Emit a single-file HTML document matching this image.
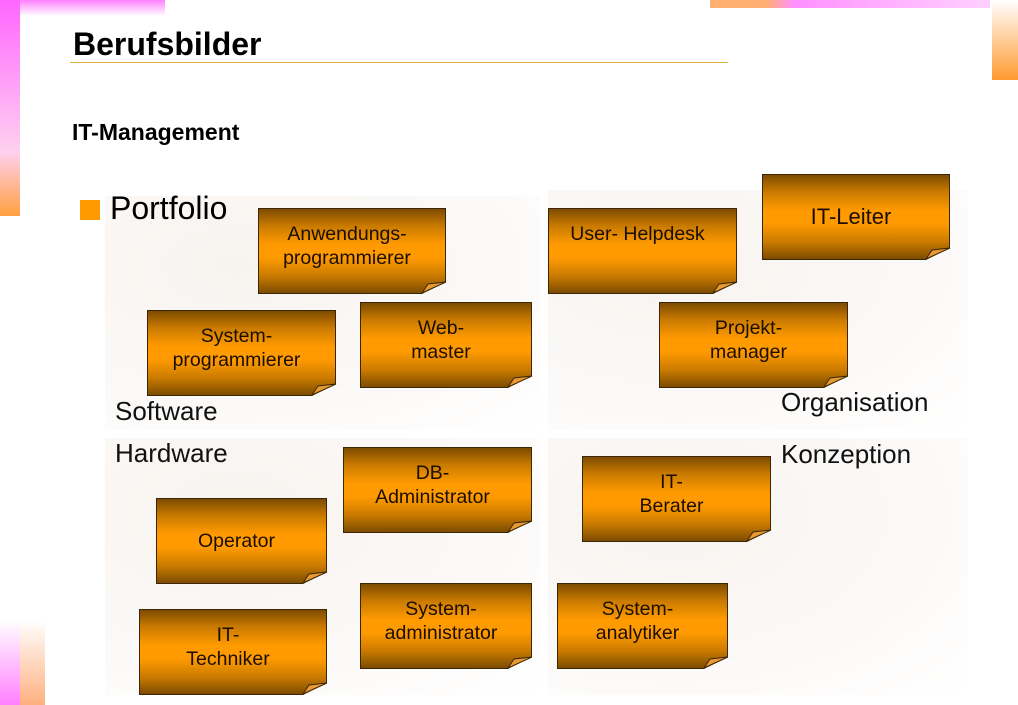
<!DOCTYPE html>
<html><head><meta charset="utf-8"><style>
body{margin:0;width:1018px;height:705px;position:relative;overflow:hidden;background:#fff;font-family:"Liberation Sans",sans-serif}
.a{position:absolute}
.q{position:absolute;background:radial-gradient(ellipse at 30% 30%,#f7f3ef,#fbf9f7 55%,#fff 100%)}
.n{position:absolute;box-sizing:border-box;border:1px solid #3b2608;background:linear-gradient(to bottom,#7d4c00 0%,#c97a00 20%,#ff9a00 42%,#ff9a00 58%,#c97a00 80%,#7d4c00 100%);text-align:center;font-size:19.5px;line-height:24px;color:#1a0e00;padding-top:13px;padding-right:10px;clip-path:polygon(0 0,100% 0,100% calc(100% - 12px),calc(100% - 24px) 100%,0 100%)}
.l{position:absolute;font-size:26px;color:#111}
</style></head><body>
<div class="a" style="left:0;top:0;width:20px;height:216px;background:linear-gradient(#ff66ff,#ffd0f0 70%,#ffa040)"></div>
<div class="a" style="left:20px;top:0;width:145px;height:16px;background:linear-gradient(#ff80ff,#fff)"></div>
<div class="a" style="left:710px;top:0;width:280px;height:8px;background:linear-gradient(to right,#ffb070 20%,#ff90ff 30%,#ffd0ff)"></div>
<div class="a" style="left:992px;top:0;width:26px;height:80px;background:linear-gradient(#fff,#ff9a30)"></div>
<div class="a" style="left:0;top:620px;width:20px;height:85px;background:linear-gradient(#fff,#ff80ff)"></div>
<div class="a" style="left:20px;top:620px;width:25px;height:85px;background:linear-gradient(#fff,#ffb080)"></div>

<div class="q" style="left:105px;top:196px;width:435px;height:234px"></div>
<div class="q" style="left:548px;top:190px;width:420px;height:240px"></div>
<div class="q" style="left:105px;top:438px;width:435px;height:257px"></div>
<div class="q" style="left:548px;top:438px;width:420px;height:257px"></div>

<div class="a" style="left:73px;top:26px;font-size:32px;font-weight:bold">Berufsbilder</div>
<div class="a" style="left:70px;top:62px;width:658px;height:1px;background:#e0b040"></div>
<div class="a" style="left:72px;top:119px;font-size:23px;font-weight:bold">IT-Management</div>
<div class="a" style="left:80px;top:200px;width:20px;height:20px;background:#ff9a00"></div>
<div class="a" style="left:110px;top:190px;font-size:32px">Portfolio</div>

<div class="l" style="left:115px;top:396px">Software</div>
<div class="l" style="left:781px;top:387px">Organisation</div>
<div class="l" style="left:115px;top:438px">Hardware</div>
<div class="l" style="left:781px;top:439px">Konzeption</div>

<div class="n" style="left:258px;top:208px;width:188px;height:86px">Anwendungs-<br>programmierer</div>
<div class="n" style="left:548px;top:208px;width:189px;height:86px">User- Helpdesk</div>
<div class="n" style="left:762px;top:174px;width:188px;height:86px;font-size:22px;padding-top:30px">IT-Leiter</div>
<div class="n" style="left:147px;top:310px;width:189px;height:86px">System-<br>programmierer</div>
<div class="n" style="left:360px;top:302px;width:172px;height:86px">Web-<br>master</div>
<div class="n" style="left:659px;top:302px;width:189px;height:86px">Projekt-<br>manager</div>
<div class="n" style="left:343px;top:447px;width:189px;height:86px">DB-<br>Administrator</div>
<div class="n" style="left:582px;top:456px;width:189px;height:86px">IT-<br>Berater</div>
<div class="n" style="left:156px;top:498px;width:171px;height:86px;padding-top:30px">Operator</div>
<div class="n" style="left:360px;top:583px;width:172px;height:86px">System-<br>administrator</div>
<div class="n" style="left:557px;top:583px;width:171px;height:86px">System-<br>analytiker</div>
<div class="n" style="left:139px;top:609px;width:188px;height:86px">IT-<br>Techniker</div>

<svg class="a" style="left:0;top:0" width="1018" height="705">
<g fill="#e89a30" stroke="#3b2608" stroke-width="1">
<polygon points="422,293 428,284 446,282"/>
<polygon points="713,293 719,284 737,282"/>
<polygon points="926,259 932,250 950,248"/>
<polygon points="312,395 318,386 336,384"/>
<polygon points="508,387 514,378 532,376"/>
<polygon points="824,387 830,378 848,376"/>
<polygon points="508,532 514,523 532,521"/>
<polygon points="747,541 753,532 771,530"/>
<polygon points="303,583 309,574 327,572"/>
<polygon points="508,668 514,659 532,657"/>
<polygon points="704,668 710,659 728,657"/>
<polygon points="303,694 309,685 327,683"/>
</g></svg>
</body></html>
